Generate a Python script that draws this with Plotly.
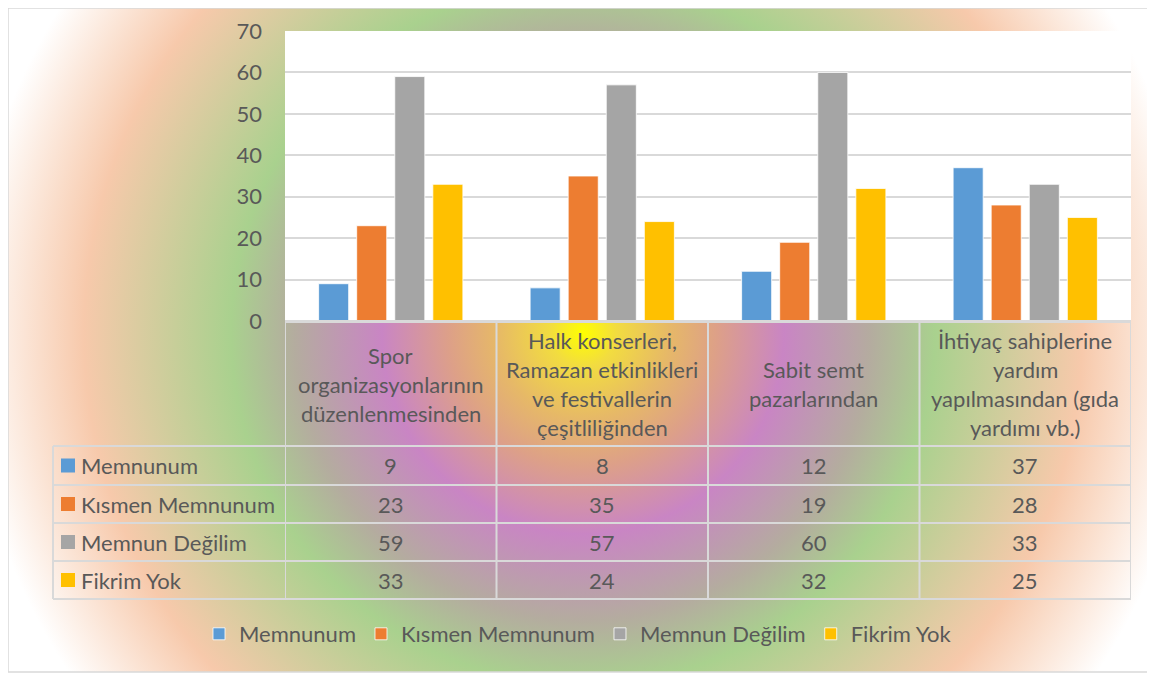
import base64
import plotly.graph_objects as go

# ---------------- data ----------------
categories = [
    "Spor organizasyonlarının düzenlenmesinden",
    "Halk konserleri, Ramazan etkinlikleri ve festivallerin çeşitliliğinden",
    "Sabit semt pazarlarından",
    "İhtiyaç sahiplerine yardım yapılmasından (gıda yardımı vb.)",
]
header_lines = [
    ["Spor", "organizasyonlarının", "düzenlenmesinden"],
    ["Halk konserleri,", "Ramazan etkinlikleri", "ve festivallerin", "çeşitliliğinden"],
    ["Sabit semt", "pazarlarından"],
    ["İhtiyaç sahiplerine", "yardım", "yapılmasından (gıda", "yardımı vb.)"],
]
series_names = ["Memnunum", "Kısmen Memnunum", "Memnun Değilim", "Fikrim Yok"]
memnunum = [9, 8, 12, 37]
kismen_memnunum = [23, 35, 19, 28]
memnun_degilim = [59, 57, 60, 33]
fikrim_yok = [33, 24, 32, 25]
series_values = [memnunum, kismen_memnunum, memnun_degilim, fikrim_yok]
colors = ["#5B9BD5", "#ED7D31", "#A5A5A5", "#FFC000"]
y_ticks = [0, 10, 20, 30, 40, 50, 60, 70]

# ---------------- geometry (page pixel coords; page has 8px body margin) ----------------
OFF = 8
PAGE_W, PAGE_H = 1155, 675
W, H = PAGE_W - OFF, PAGE_H - OFF
PLOT_X0, PLOT_X1, PLOT_Y0, PLOT_Y1 = 285, 1131, 31, 321
L, R = PLOT_X0 - OFF, W - (PLOT_X1 - OFF)
T, B = PLOT_Y0 - OFF, H - (PLOT_Y1 - OFF)
PW, PH = PLOT_X1 - PLOT_X0, PLOT_Y1 - PLOT_Y0
FONT = "Lato"
TXT = "#595959"
GRID = "#D9D9D9"
FS = 22


def px(x):
    return (x - PLOT_X0) / PW


def py(y):
    return (PLOT_Y1 - y) / PH


# ---------------- background gradient ----------------
svg = f'''<svg xmlns="http://www.w3.org/2000/svg" width="{W}" height="{H}" viewBox="{OFF} {OFF} {W} {H}" preserveAspectRatio="none">
<defs><radialGradient id="g" gradientUnits="userSpaceOnUse" cx="583" cy="333" r="670">
<stop offset="0" stop-color="#FFFF00"/>
<stop offset="0.05" stop-color="#F2DC40"/>
<stop offset="0.13" stop-color="#E6B868"/>
<stop offset="0.20" stop-color="#DDA088"/>
<stop offset="0.30" stop-color="#C985C4"/>
<stop offset="0.43" stop-color="#B4AC9F"/>
<stop offset="0.525" stop-color="#A9D18E"/>
<stop offset="0.745" stop-color="#F7C9AB"/>
<stop offset="0.92" stop-color="#FFFFFF"/>
</radialGradient></defs>
<rect x="6" y="2" width="1145" height="670" fill="url(#g)"/></svg>'''
svg_uri = "data:image/svg+xml;base64," + base64.b64encode(svg.encode("utf-8")).decode("ascii")

fig = go.Figure()
for name, vals, col in zip(series_names, series_values, colors):
    fig.add_trace(go.Bar(
        name=name, x=categories, y=vals,
        marker=dict(color=col, line=dict(color="rgba(255,255,255,0.8)", width=1)),
        hoverinfo="x+y+name",
    ))

shapes = []
annotations = []

# white plot area over gradient
shapes.append(dict(type="rect", xref="paper", yref="paper", x0=0, x1=1, y0=0, y1=1,
                   fillcolor="white", line=dict(width=0), layer="below"))

# table grid
row_edges = [446, 485, 523, 561, 599]
shapes.append(dict(type="line", xref="paper", yref="paper", x0=px(285), x1=px(1131),
                   y0=py(321.5), y1=py(321.5), line=dict(color=GRID, width=3)))
for yy in row_edges:
    shapes.append(dict(type="line", xref="paper", yref="paper", x0=px(53), x1=px(1131),
                       y0=py(yy), y1=py(yy), line=dict(color=GRID, width=2)))
for k in range(len(categories) + 1):
    shapes.append(dict(type="line", xref="x", yref="paper", x0=k - 0.5, x1=k - 0.5,
                       y0=py(321), y1=py(599), line=dict(color=GRID, width=2)))
shapes.append(dict(type="line", xref="paper", yref="paper", x0=px(53), x1=px(53),
                   y0=py(446), y1=py(599), line=dict(color=GRID, width=2)))

# header text (one annotation per line)
LINE_H = 29
for i, lines in enumerate(header_lines):
    n = len(lines)
    for j, line in enumerate(lines):
        yc = 384 + (j - (n - 1) / 2) * LINE_H
        annotations.append(dict(x=categories[i], xref="x", y=py(yc), yref="paper",
                                text=line, showarrow=False, xanchor="center", yanchor="middle",
                                font=dict(family=FONT, size=FS, color=TXT)))

# rows
row_centers = [(row_edges[r] + row_edges[r + 1]) / 2 for r in range(4)]
for r, (name, vals, col) in enumerate(zip(series_names, series_values, colors)):
    yc = row_centers[r]
    shapes.append(dict(type="rect", xref="paper", yref="paper", x0=px(61), x1=px(75),
                       y0=py(yc + 7), y1=py(yc - 7), fillcolor=col, line=dict(width=0)))
    annotations.append(dict(x=px(79), xref="paper", y=py(yc), yref="paper", text=name,
                            showarrow=False, xanchor="left", yanchor="middle",
                            font=dict(family=FONT, size=FS, color=TXT)))
    for i, v in enumerate(vals):
        annotations.append(dict(x=categories[i], xref="x", y=py(yc), yref="paper",
                                text=str(v), showarrow=False, xanchor="center", yanchor="middle",
                                font=dict(family=FONT, size=FS, color=TXT)))

# outer border
shapes.append(dict(type="rect", xref="paper", yref="paper", x0=px(6 + 2), x1=px(1151),
                   y0=py(672), y1=py(2 + 6), line=dict(color=GRID, width=1.5)))

fig.update_layout(
    width=W, height=H,
    margin=dict(l=L, r=R, t=T, b=B, autoexpand=False),
    paper_bgcolor="white", plot_bgcolor="rgba(0,0,0,0)",
    barmode="group", bargap=0.28, bargroupgap=0.21,
    font=dict(family=FONT, size=FS, color=TXT),
    images=[dict(source=svg_uri, xref="paper", yref="paper", x=px(OFF), y=py(OFF),
                 sizex=W / PW, sizey=H / PH, xanchor="left", yanchor="top",
                 sizing="stretch", layer="below")],
    shapes=shapes,
    annotations=annotations,
    showlegend=True,
    legend=dict(orientation="h", x=px(578), xanchor="center", y=py(634), yanchor="middle",
                font=dict(family=FONT, size=FS, color=TXT), bgcolor="rgba(0,0,0,0)",
                itemclick=False),
    xaxis=dict(showticklabels=False, showgrid=False, zeroline=False, showline=False,
               range=[-0.5, 3.5], fixedrange=True),
    yaxis=dict(range=[0, 70], tickvals=y_ticks, showgrid=True, gridcolor=GRID, gridwidth=2,
               zeroline=False, showline=False, ticks="", ticklabelstandoff=22,
               tickfont=dict(family=FONT, size=FS, color=TXT), fixedrange=True),
)

fig.write_html("out.html")
